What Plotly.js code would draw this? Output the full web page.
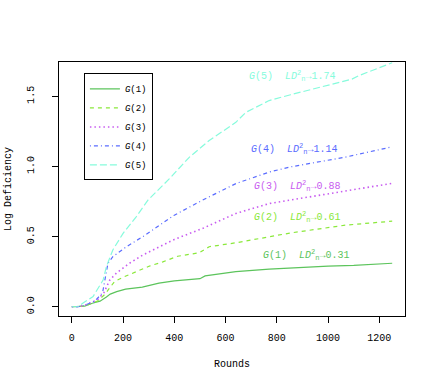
<!DOCTYPE html>
<html>
<head>
<meta charset="utf-8">
<script src="https://cdn.plot.ly/plotly-3.0.1.min.js"></script>
<style>
  html, body { margin: 0; padding: 0; background: #fff; }
  #chart { width: 436px; height: 382px; }
</style>
</head>
<body>
<div id="chart"></div>
<script>
// Rounds (x) and log deficiency (y) for each G(k)
const g1Rounds = [0, 25, 50, 80, 110, 135, 150, 175, 210, 275, 340, 400, 500, 520, 640, 770, 850, 1000, 1100, 1250];
const g1Values = [0, 0, 0.005, 0.025, 0.04, 0.07, 0.09, 0.108, 0.125, 0.14, 0.168, 0.185, 0.2, 0.22, 0.25, 0.268, 0.276, 0.29, 0.295, 0.31];

const g2Rounds = [0, 25, 50, 100, 130, 150, 167, 206, 264, 303, 355, 413, 497, 536, 640, 770, 850, 1068, 1250];
const g2Values = [0, 0, 0.005, 0.04, 0.09, 0.14, 0.18, 0.215, 0.262, 0.29, 0.32, 0.36, 0.385, 0.428, 0.456, 0.5, 0.525, 0.582, 0.61];

const g3Rounds = [0, 25, 50, 100, 125, 135, 148, 174, 225, 277, 342, 400, 510, 640, 770, 850, 1068, 1250];
const g3Values = [0, 0, 0.01, 0.05, 0.1, 0.144, 0.19, 0.24, 0.31, 0.369, 0.428, 0.48, 0.558, 0.665, 0.736, 0.76, 0.83, 0.88];

const g4Rounds = [0, 25, 50, 90, 120, 135, 141, 160, 213, 277, 342, 400, 510, 640, 770, 850, 1068, 1250];
const g4Values = [0, 0, 0.01, 0.04, 0.1, 0.25, 0.31, 0.357, 0.428, 0.5, 0.58, 0.653, 0.76, 0.878, 0.96, 0.996, 1.067, 1.14];

const g5Rounds = [0, 25, 44, 83, 122, 135, 160, 200, 251, 297, 381, 459, 536, 640, 679, 770, 850, 1093, 1119, 1250];
const g5Values = [0, 0, 0.026, 0.073, 0.19, 0.286, 0.405, 0.523, 0.641, 0.76, 0.913, 1.067, 1.185, 1.315, 1.386, 1.47, 1.51, 1.623, 1.647, 1.74];

const seriesNames = ['G(1)', 'G(2)', 'G(3)', 'G(4)', 'G(5)'];
const finalValues = ['0.31', '0.61', '0.88', '1.14', '1.74'];
const labelRounds = [738, 703, 703, 692, 684];
const labelLevels = [0.369, 0.639, 0.859, 1.128, 1.647];

const colors = ['#5cc45c', '#8ae83a', '#c85cf0', '#5a6cff', '#86fbdc'];
// R style lty 1..5: solid, dashed, dotted, dotdash, longdash
const dashes = ['solid', '4px,4px', '1.5px,3px', '1px,3px,4px,3px', '7px,3px'];
const widths = [1.2, 1.2, 1.6, 1.2, 1.2];

const xs = [g1Rounds, g2Rounds, g3Rounds, g4Rounds, g5Rounds];
const ys = [g1Values, g2Values, g3Values, g4Values, g5Values];

const fontFam = '"Liberation Mono", "DejaVu Sans Mono", monospace';

const data = xs.map((x, i) => ({
    x: x,
    y: ys[i],
    type: 'scatter',
    mode: 'lines',
    name: '<i>G</i>(' + (i + 1) + ')',
    line: { color: colors[i], width: widths[i], dash: dashes[i] }
}));

const annotations = seriesNames.map((n, i) => ({
    x: labelRounds[i],
    y: labelLevels[i],
    xref: 'x',
    yref: 'y',
    xanchor: 'left',
    yanchor: 'middle',
    showarrow: false,
    text: '<i>G</i>(' + (i + 1) + ')  <i>LD</i><sup>2</sup><sub>n</sub>\u2192' + finalValues[i],
    font: { family: fontFam, size: 10, color: colors[i] }
}));

const layout = {
    width: 436,
    height: 382,
    margin: { l: 59, r: 31, t: 62, b: 66 },
    paper_bgcolor: '#fff',
    plot_bgcolor: '#fff',
    font: { family: fontFam, size: 10, color: '#000' },
    showlegend: true,
    legend: {
        x: 0.072, y: 0.955, xanchor: 'left', yanchor: 'top',
        bordercolor: '#000', borderwidth: 1, bgcolor: '#fff',
        font: { family: fontFam, size: 9, color: '#000' },
        itemwidth: 30
    },
    xaxis: {
        range: [-50, 1300],
        tickvals: [0, 200, 400, 600, 800, 1000, 1200],
        ticks: 'outside', ticklen: 6, tickcolor: '#000',
        ticklabelstandoff: 6,
        showgrid: false, zeroline: false,
        showline: true, mirror: true, linecolor: '#000', linewidth: 1,
        title: { text: 'Rounds', standoff: 16, font: { family: fontFam, size: 10 } }
    },
    yaxis: {
        range: [-0.066, 1.745],
        tickvals: [0, 0.5, 1.0, 1.5],
        ticktext: ['0.0', '0.5', '1.0', '1.5'],
        tickangle: -90,
        ticks: 'outside', ticklen: 6, tickcolor: '#000',
        ticklabelstandoff: 14,
        showgrid: false, zeroline: false,
        showline: true, mirror: true, linecolor: '#000', linewidth: 1,
        title: { text: 'Log Deficiency', standoff: 12, font: { family: fontFam, size: 10 } }
    },
    annotations: annotations
};

Plotly.newPlot('chart', data, layout, { displayModeBar: false, staticPlot: true });
</script>
</body>
</html>
